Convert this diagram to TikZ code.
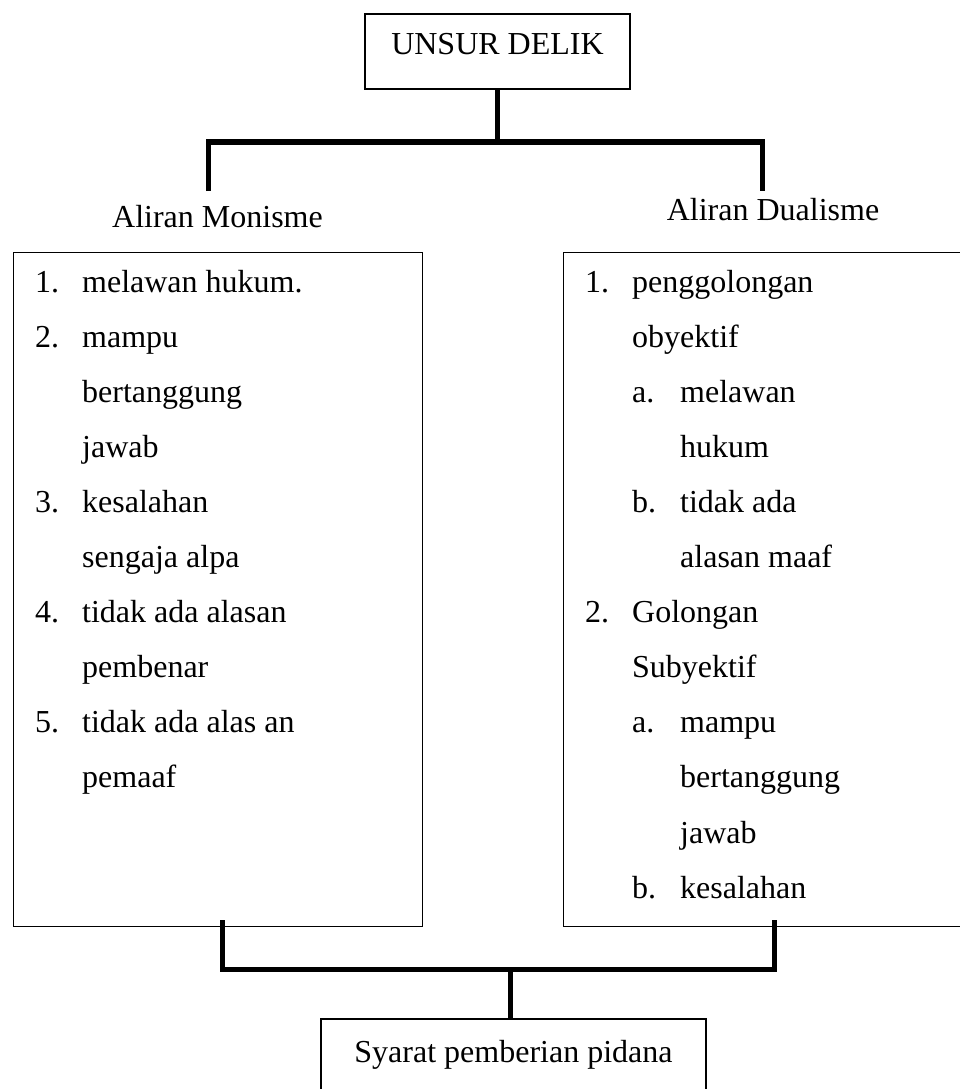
\documentclass[tikz,border=0pt]{standalone}
\usepackage{fontspec}
\setmainfont{Liberation Serif}
\newcommand{\lsitem}[2]{\makebox[47pt][l]{#1}#2}
\newcommand{\lscont}[1]{\hspace*{47pt}#1}
\newcommand{\lssub}[2]{\hspace*{47pt}\makebox[48pt][l]{#1}#2}
\newcommand{\lssubc}[1]{\hspace*{95pt}#1}
\begin{document}
\begin{tikzpicture}[x=1pt,y=-1pt,
  every node/.style={font=\fontsize{32}{55.1}\selectfont, inner sep=0pt},
  boxline/.style={draw=black, line width=1.2pt},
  conn/.style={draw=black, line width=5pt, line cap=butt, line join=miter},
  listtext/.style={anchor=base west},
  label/.style={anchor=base}
]
\useasboundingbox (0,0) rectangle (960,1089);
\clip (0,0) rectangle (960,1089);
\fill[white] (0,0) rectangle (960,1089);

% top box
\node[boxline, anchor=base, minimum width=265pt, text height=41pt, text depth=34pt] (unsur) at (497.5,55) {UNSUR DELIK};

% labels
\node[label] (monlab) at (217.5,227) {Aliran Monisme};
\node[label] (duallab) at (773,220) {Aliran Dualisme};

% list boxes
\node[boxline, anchor=north west, minimum width=409pt, minimum height=674pt] (monbox) at (13,252) {};
\node[boxline, anchor=north west, minimum width=440pt, minimum height=674pt] (dualbox) at (563,252) {};

\node[listtext] (monlist) at (35,292) {\parbox[t]{380pt}{\raggedright
\lsitem{1.}{melawan hukum.}\\
\lsitem{2.}{mampu}\\
\lscont{bertanggung}\\
\lscont{jawab}\\
\lsitem{3.}{kesalahan}\\
\lscont{sengaja alpa}\\
\lsitem{4.}{tidak ada alasan}\\
\lscont{pembenar}\\
\lsitem{5.}{tidak ada alas an}\\
\lscont{pemaaf}}};

\node[listtext] (duallist) at (585,292) {\parbox[t]{370pt}{\raggedright
\lsitem{1.}{penggolongan}\\
\lscont{obyektif}\\
\lssub{a.}{melawan}\\
\lssubc{hukum}\\
\lssub{b.}{tidak ada}\\
\lssubc{alasan maaf}\\
\lsitem{2.}{Golongan}\\
\lscont{Subyektif}\\
\lssub{a.}{mampu}\\
\lssubc{bertanggung}\\
\lssubc{jawab}\\
\lssub{b.}{kesalahan}}};

% bottom box
\node[boxline, anchor=base, minimum width=385pt, text height=43pt, text depth=45pt] (syarat) at (513.5,1062) {Syarat pemberian pidana};

% upper connectors
\coordinate (j1) at (497.5,142);
\coordinate (dl) at (208,191);
\coordinate (dr) at (762,191);
\draw[conn] (unsur.south) -- (unsur.south |- j1);
\draw[conn] (dl) -- (dl |- j1) -- (dr |- j1) -- (dr);

% lower connectors
\coordinate (j2) at (510,969);
\coordinate (ul) at (222,920);
\coordinate (ur) at (774,920);
\draw[conn] (ul) -- (ul |- j2) -- (ur |- j2) -- (ur);
\draw[conn] (j2) -- (j2 |- syarat.north);
\end{tikzpicture}
\end{document}
